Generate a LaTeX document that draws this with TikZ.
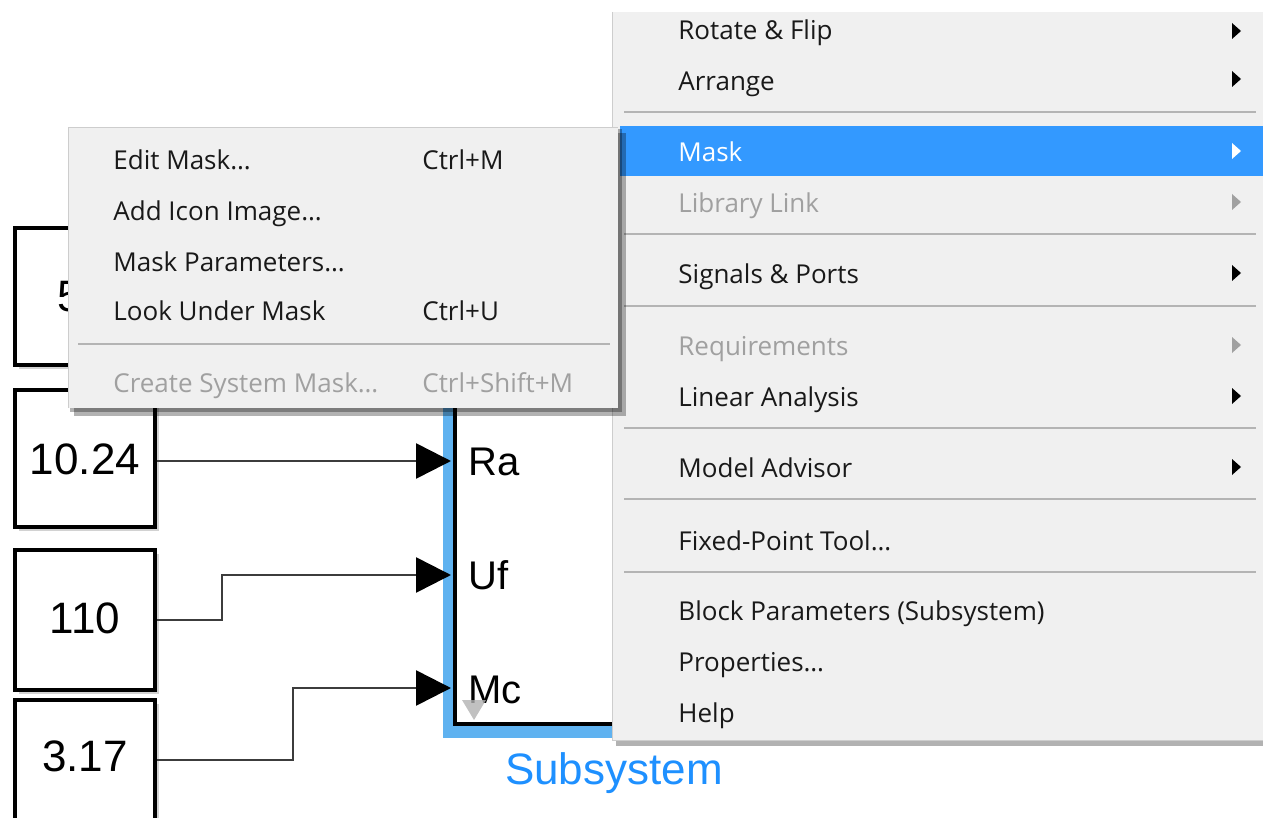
\documentclass[tikz,border=0pt]{standalone}
\usepackage{fontspec}
\setmainfont{Open Sans}
\newfontfamily\arialfont{Liberation Sans}
\usetikzlibrary{arrows.meta,shadows}

\definecolor{menubg}{RGB}{240,240,240}
\definecolor{menuborder}{RGB}{205,205,205}
\definecolor{sepgrey}{RGB}{180,180,180}
\definecolor{hilite}{RGB}{51,153,255}
\definecolor{menutext}{RGB}{25,25,25}
\definecolor{dimtext}{RGB}{160,160,160}
\definecolor{selblue}{RGB}{95,178,240}
\definecolor{subtext}{RGB}{30,144,255}
\definecolor{wiregrey}{RGB}{60,60,60}

% small submenu arrow at the right end of a menu row
\newcommand\menuarrow[2]{\fill[#2] (1232,{#1-8}) -- (1241,#1) -- (1232,{#1+8}) -- cycle;}

\begin{document}
\begin{tikzpicture}[x=0.5pt,y=-0.5pt,
  item/.style={anchor=base west,inner sep=0pt,text=menutext,font=\fontsize{13}{15}\selectfont},
  dimitem/.style={item,text=dimtext},
  sep/.style={draw=sepgrey,line width=1pt},
  constblock/.style={draw=black,line width=1.8pt,fill=white,minimum width=70pt,inner sep=0pt,
    drop shadow={shadow xshift=1.8pt,shadow yshift=-1.8pt,opacity=0.35}},
  valtext/.style={anchor=base,inner sep=0pt,font=\arialfont\fontsize{22}{26}\selectfont},
  portlabel/.style={anchor=base west,inner sep=0pt,font=\arialfont\fontsize{20}{24}\selectfont},
  wire/.style={draw=wiregrey,line width=1.3pt,-{Triangle[length=17.5pt,width=17.5pt,color=black]}},
]
\useasboundingbox (0,0) rectangle (1263,818);
\fill[white] (0,0) rectangle (1263,818);

% ---- constant blocks ----
\node[constblock,minimum height=68.5pt] (k1) at (85,296.5) {};
\node[valtext,anchor=base west] (k1v) at (57,312) {5};
\node[constblock,minimum height=68.5pt] (k2) at (85,458.5) {};
\node[valtext] (k2v) at (85,474) {10.24};
\node[constblock,minimum height=70pt] (k3) at (85,620) {};
\node[valtext] (k3v) at (85,633) {110};
\node[constblock,minimum height=70pt] (k4) at (85,770) {};
\node[valtext] (k4v) at (85,771) {3.17};

% ---- subsystem block (selected) ----
\fill[selblue] (443,320) rectangle (960,738);
\node[draw=black,line width=2pt,fill=white,anchor=south west,minimum width=250pt,minimum height=200pt,inner sep=0pt] (sub) at (453,726) {};
\node[anchor=base,inner sep=0pt,text=subtext,font=\arialfont\fontsize{22}{26}\selectfont] (sublabel) at (614,784) {Subsystem};

\coordinate (ra) at (451,461);
\coordinate (uf) at (451,575);
\coordinate (mc) at (451,688);
\node[portlabel] (ral) at (468,475) {Ra};
\node[portlabel] (ufl) at (468,589) {Uf};
\node[portlabel] (mcl) at (468,703) {Mc};
\fill[black!30,opacity=0.8] (462,700) -- (486,700) -- (474,720) -- cycle;

% ---- signal lines ----
\draw[wire] (k2.east |- ra) -- (ra);
\draw[wire] (k3.east) -- (222,620) |- (uf);
\draw[wire] ([yshift=5pt]k4.east) -- (293,760) |- (mc);

% ---- context menu ----
\fill[black,opacity=0.3] (616,16) rectangle (1263,746);
\fill[menubg] (612,12) rectangle (1263,740);
\draw[menuborder] (612,12) -- (612,740) -- (1263,740);
\fill[hilite] (620,126) rectangle (1263,176);

\node[item] (rot) at (678,40) {Rotate \& Flip};
\node[item] (arr) at (678,91) {Arrange};
\draw[sep] (624,112) -- (1256,112);
\node[item,text=white] (mask) at (678,162) {Mask};
\node[dimitem] (lib) at (678,213) {Library Link};
\draw[sep] (624,234) -- (1256,234);
\node[item] (sig) at (678,284) {Signals \& Ports};
\draw[sep] (624,306) -- (1256,306);
\node[dimitem] (req) at (678,355) {Requirements};
\node[item] (lin) at (678,406) {Linear Analysis};
\draw[sep] (624,428) -- (1256,428);
\node[item] (mod) at (678,477) {Model Advisor};
\draw[sep] (624,499) -- (1256,499);
\node[item] (fix) at (678,550) {Fixed-Point Tool…};
\draw[sep] (624,572) -- (1256,572);
\node[item] (blk) at (678,620) {Block Parameters (Subsystem)};
\node[item] (prop) at (678,671) {Properties…};
\node[item] (help) at (678,722) {Help};

\menuarrow{31}{black}
\menuarrow{79}{black}
\menuarrow{151}{white}
\menuarrow{202}{dimtext}
\menuarrow{273}{black}
\menuarrow{345}{dimtext}
\menuarrow{396}{black}
\menuarrow{467}{black}

% ---- mask submenu ----
\fill[black,opacity=0.3] (74,133) rectangle (626,416);
\fill[black,opacity=0.3] (70,129) rectangle (622,412);
\fill[menubg] (68,127) rectangle (618,408);
\draw[menuborder] (68,408) -- (68,127) -- (618,127);

\node[item] (edit) at (113,170) {Edit Mask…};
\node[item] (editk) at (422,170) {Ctrl+M};
\node[item] (icon) at (113,221) {Add Icon Image…};
\node[item] (mpar) at (113,271) {Mask Parameters…};
\node[item] (look) at (113,321) {Look Under Mask};
\node[item] (lookk) at (422,321) {Ctrl+U};
\draw[sep] (78,344) -- (610,344);
\node[dimitem] (cre) at (113,392) {Create System Mask…};
\node[dimitem] (crek) at (422,392) {Ctrl+Shift+M};
\end{tikzpicture}
\end{document}
